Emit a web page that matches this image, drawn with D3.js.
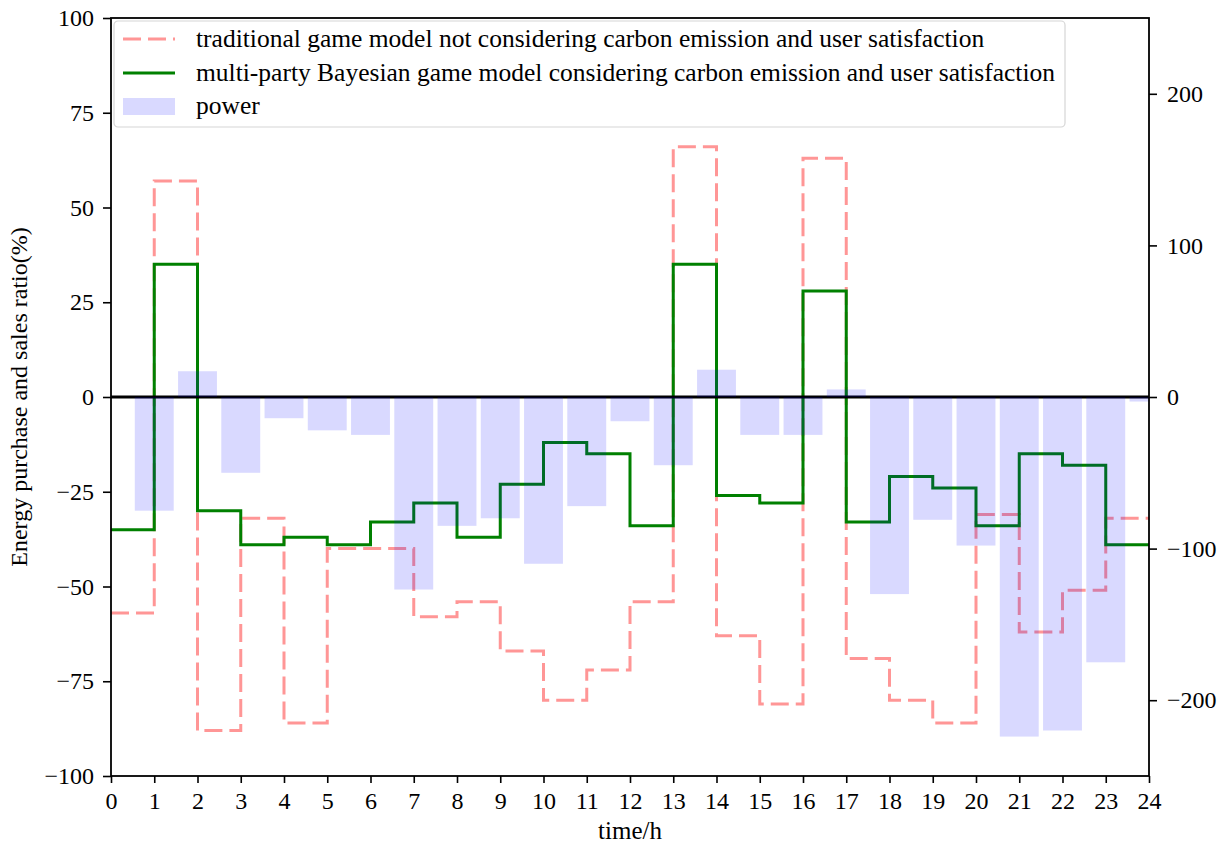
<!DOCTYPE html>
<html>
<head>
<meta charset="utf-8">
<script src="https://cdn.jsdelivr.net/npm/d3@7"></script>
<style>
  html, body { margin: 0; padding: 0; background: #fff; }
  svg { display: block; }
  text { font-family: "Liberation Serif", "DejaVu Serif", serif; }
</style>
</head>
<body>
<svg id="chart" width="1228" height="846"></svg>
<script>
// ---- data ----
const hours = d3.range(0, 24);
const traditional = [-57, 57, -88, -32, -86, -40, -40, -58, -54, -67, -80, -72, -54, 66, -63, -81, 63, -69, -80, -86, -31, -62, -51, -32];
const bayesian = [-35, 35, -30, -39, -37, -39, -33, -28, -37, -23, -12, -15, -34, 35, -26, -28, 28, -33, -21, -24, -34, -15, -18, -39];
const powerHours = d3.range(1, 25);
const power = [-75, 17, -50, -14, -22, -25, -127, -85, -80, -110, -72, -16, -45, 18, -25, -25, 5, -130, -81, -98, -224, -220, -175, -3];
const xTicks = d3.range(0, 25);
const leftTicks = [-100, -75, -50, -25, 0, 25, 50, 75, 100];
const rightTicks = [-200, -100, 0, 100, 200];
const legendLabels = [
  "traditional game model not considering carbon emission and user satisfaction",
  "multi-party Bayesian game model considering carbon emission and user satisfaction",
  "power"
];

// ---- layout ----
const W = 1228, H = 846;
const m = { left: 111, right: 79, top: 18, bottom: 70 };
const iw = W - m.left - m.right, ih = H - m.top - m.bottom;

const svg = d3.select("#chart");
const g = svg.append("g").attr("transform", `translate(${m.left},${m.top})`);

const x = d3.scaleLinear().domain([0, 24]).range([0, iw]);
const yL = d3.scaleLinear().domain([-100, 100]).range([ih, 0]);
const yR = d3.scaleLinear().domain([-250, 250]).range([ih, 0]);

svg.append("defs").append("clipPath").attr("id", "clip")
  .append("rect").attr("x", 0).attr("y", 0).attr("width", iw).attr("height", ih);

const plot = g.append("g").attr("clip-path", "url(#clip)");

const stepPts = vals => hours.map((h, i) => [h, vals[i]]).concat([[24, vals[vals.length - 1]]]);
const line = d3.line().x(d => x(d[0])).y(d => yL(d[1])).curve(d3.curveStepAfter);

plot.append("path").datum(stepPts(traditional))
  .attr("d", line).attr("fill", "none")
  .attr("stroke", "#ff9696").attr("stroke-width", 3)
  .attr("stroke-dasharray", "18,7");

plot.append("path").datum(stepPts(bayesian))
  .attr("d", line).attr("fill", "none")
  .attr("stroke", "#008000").attr("stroke-width", 3);

plot.append("line")
  .attr("x1", 0).attr("x2", iw).attr("y1", yL(0)).attr("y2", yL(0))
  .attr("stroke", "#000").attr("stroke-width", 3);

const bw = x(0.9) - x(0);
plot.selectAll("rect.bar").data(powerHours.map((h, i) => [h, power[i]]))
  .enter().append("rect").attr("class", "bar")
  .attr("x", d => x(d[0]) - bw / 2)
  .attr("width", bw)
  .attr("y", d => yR(Math.max(0, d[1])))
  .attr("height", d => Math.abs(yR(d[1]) - yR(0)))
  .attr("fill", "rgba(0,0,255,0.15)");

// ---- axes ----
const fs = 24;
const fmt = d3.format("d");
const xAxis = g.append("g").attr("transform", `translate(0,${ih})`)
  .call(d3.axisBottom(x).tickValues(xTicks).tickFormat(fmt).tickSize(7).tickPadding(9));
const lAxis = g.append("g")
  .call(d3.axisLeft(yL).tickValues(leftTicks).tickFormat(fmt).tickSize(8).tickPadding(9));
const rAxis = g.append("g").attr("transform", `translate(${iw},0)`)
  .call(d3.axisRight(yR).tickValues(rightTicks).tickFormat(fmt).tickSize(8).tickPadding(10));

[xAxis, lAxis, rAxis].forEach(a => {
  a.attr("font-family", null).attr("font-size", null);
  a.select(".domain").remove();
  a.selectAll(".tick line").attr("stroke", "#000").attr("stroke-width", 1.6);
  a.selectAll(".tick text").attr("font-size", fs).attr("fill", "#000");
});

// frame
g.append("rect").attr("x", 0).attr("y", 0).attr("width", iw).attr("height", ih)
  .attr("fill", "none").attr("stroke", "#000").attr("stroke-width", 1.8);

// axis labels
g.append("text").attr("x", iw / 2).attr("y", ih + 63)
  .attr("text-anchor", "middle").attr("font-size", 25).text("time/h");
g.append("text")
  .attr("transform", `translate(${-84},${ih / 2}) rotate(-90)`)
  .attr("text-anchor", "middle").attr("font-size", 24)
  .text("Energy purchase and sales ratio(%)");

// ---- legend ----
const lg = g.append("g").attr("transform", "translate(3,3)");
lg.append("rect").attr("x", 0).attr("y", 0).attr("width", 951).attr("height", 106)
  .attr("rx", 4).attr("ry", 4)
  .attr("fill", "rgba(255,255,255,0.8)").attr("stroke", "#d6d6d6").attr("stroke-width", 1.2);
const rowY = [18, 52, 85];
lg.append("line").attr("x1", 9).attr("x2", 61).attr("y1", rowY[0]).attr("y2", rowY[0])
  .attr("stroke", "#ff9696").attr("stroke-width", 3).attr("stroke-dasharray", "18,7");
lg.append("line").attr("x1", 9).attr("x2", 61).attr("y1", rowY[1]).attr("y2", rowY[1])
  .attr("stroke", "#008000").attr("stroke-width", 3);
lg.append("rect").attr("x", 9).attr("y", rowY[2] - 8).attr("width", 52).attr("height", 17)
  .attr("fill", "rgba(0,0,255,0.15)");
legendLabels.forEach((t, i) => {
  lg.append("text").attr("x", 82).attr("y", rowY[i]).attr("dy", "0.33em")
    .attr("font-size", 25.5).attr("fill", "#000").text(t);
});
</script>
</body>
</html>
